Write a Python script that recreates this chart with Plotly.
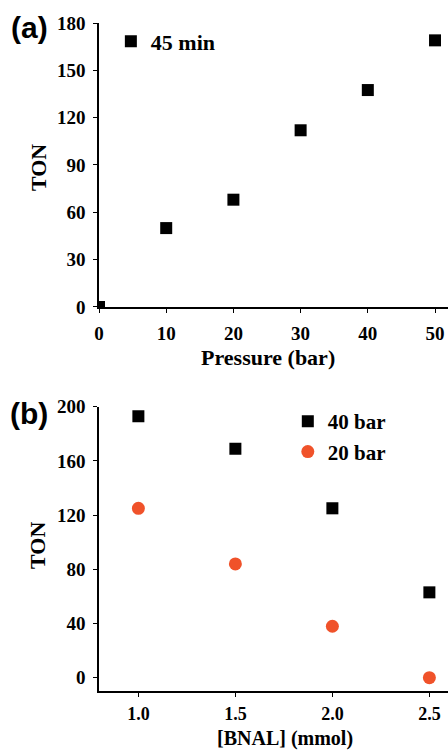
import plotly.graph_objects as go

# Panel (a)
pressure_bar = [0, 10, 20, 30, 40, 50]
ton_45min = [0, 50, 68, 112, 137.5, 169]

# Panel (b)
bnal_mmol = [1.0, 1.5, 2.0, 2.5]
ton_40bar = [193, 169, 125, 63]
ton_20bar = [125, 84, 38, 0]

a_xticks = [0, 10, 20, 30, 40, 50]
a_yticks = [0, 30, 60, 90, 120, 150, 180]
b_xticks = [1.0, 1.5, 2.0, 2.5]
b_xticklabels = ["1.0", "1.5", "2.0", "2.5"]
b_yticks = [0, 40, 80, 120, 160, 200]

SERIF = "Liberation Serif"
SANS = "Liberation Sans"
ORANGE = "#F0522A"

fig = go.Figure()
fig.add_trace(go.Scatter(
    x=pressure_bar, y=ton_45min, mode="markers", name="<b>45 min</b>",
    marker=dict(symbol="square", size=12, color="black"),
    xaxis="x", yaxis="y", legend="legend"))
fig.add_trace(go.Scatter(
    x=bnal_mmol, y=ton_40bar, mode="markers", name="<b>40 bar</b>",
    marker=dict(symbol="square", size=12, color="black"),
    xaxis="x2", yaxis="y2", legend="legend2"))
fig.add_trace(go.Scatter(
    x=bnal_mmol, y=ton_20bar, mode="markers", name="<b>20 bar</b>",
    marker=dict(symbol="circle", size=13, color=ORANGE),
    xaxis="x2", yaxis="y2", legend="legend2"))

axis_common = dict(
    showline=True, linecolor="black", linewidth=1.5,
    ticks="outside", ticklen=4, tickwidth=1, tickcolor="black",
    showgrid=False, zeroline=False,
    tickfont=dict(family=SERIF, size=19, color="black", weight="bold"),
    ticklabelstandoff=4,
)
x2_common = dict(axis_common)
x2_common["tickfont"] = dict(family=SERIF, size=18, color="black", weight="bold")
x2_common["ticklabelstandoff"] = 2

fig.update_layout(
    width=448, height=750,
    margin=dict(l=99, r=0, t=23, b=59),
    paper_bgcolor="white", plot_bgcolor="white",
    xaxis=dict(domain=[0, 1], range=[0, 51.93], tickvals=a_xticks,
               anchor="y", **axis_common),
    yaxis=dict(domain=[0.5749, 1.0], range=[0, 180], tickvals=a_yticks,
               anchor="x", **axis_common),
    xaxis2=dict(domain=[0, 1], range=[0.797, 2.596], tickvals=b_xticks,
                ticktext=b_xticklabels, anchor="y2", **x2_common),
    yaxis2=dict(domain=[0, 0.4256], range=[-9.8, 200], tickvals=b_yticks,
                anchor="x2", **axis_common),
    legend=dict(x=0.034, y=1.004, xanchor="left", yanchor="top",
                bgcolor="rgba(0,0,0,0)",
                font=dict(family=SERIF, size=22, color="black")),
    legend2=dict(x=0.541, y=0.434, xanchor="left", yanchor="top",
                 bgcolor="rgba(0,0,0,0)", tracegroupgap=0,
                 font=dict(family=SERIF, size=21, color="black")),
    showlegend=True,
)

title_font = dict(family=SERIF, size=22, color="black")
bottom_title_font = dict(family=SERIF, size=20, color="black")
label_font = dict(family=SANS, size=30, color="black")
anns = [
    dict(text="<b>(a)</b>", x=-0.1986, y=0.994, font=label_font),
    dict(text="<b>(b)</b>", x=-0.202, y=0.4147, font=label_font),
    dict(text="<b>TON</b>", x=-0.1748, y=0.7844, font=title_font, textangle=-90),
    dict(text="<b>TON</b>", x=-0.1748, y=0.2186, font=title_font, textangle=-90),
    dict(text="<b>Pressure (bar)</b>", x=0.4842, y=0.5, font=title_font),
    dict(text="<b>[BNAL] (mmol)</b>", x=0.533, y=-0.0704, font=bottom_title_font),
]
for a in anns:
    fig.add_annotation(xref="paper", yref="paper", showarrow=False,
                       xanchor="center", yanchor="middle", **a)

fig.write_html("out.html")
